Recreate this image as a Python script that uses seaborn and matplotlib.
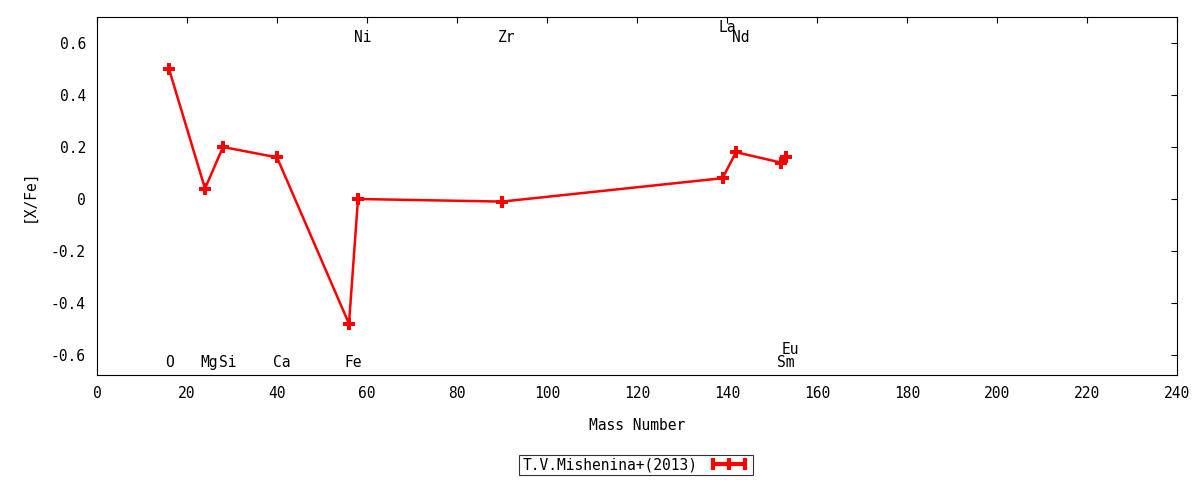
import matplotlib
matplotlib.use("Agg")
import matplotlib.pyplot as plt
import seaborn as sns
import pandas as pd
from matplotlib.lines import Line2D

elements = ["O", "Mg", "Si", "Ca", "Fe", "Ni", "Zr", "La", "Nd", "Sm", "Eu"]
mass = [16, 24, 28, 40, 56, 58, 90, 139, 142, 152, 153]
xfe = [0.50, 0.04, 0.20, 0.16, -0.48, 0.00, -0.01, 0.08, 0.18, 0.14, 0.16]
label_x = [16.2, 25, 29, 41, 57, 59, 91, 140, 143, 153, 154]
label_y = [-0.63, -0.63, -0.63, -0.63, -0.63, 0.62, 0.62, 0.66, 0.62, -0.63, -0.58]
series_name = "T.V.Mishenina+(2013)"
xticks = list(range(0, 241, 20))
yticks = [-0.6, -0.4, -0.2, 0, 0.2, 0.4, 0.6]

sns.set_style("white")
plt.rcParams['font.family'] = ['DejaVu Sans Mono']
plt.rcParams['text.color'] = 'black'
plt.rcParams['axes.labelcolor'] = 'black'

df = pd.DataFrame({"mass": mass, "xfe": xfe})

fig = plt.figure(figsize=(12, 4.8), dpi=100)
ax = fig.add_axes([97/1200, 1-375/480, 1080/1200, 358/480])

sns.lineplot(data=df, x="mass", y="xfe", ax=ax, sort=False, color="red",
             linewidth=1.8, marker="P", markersize=8.5, markeredgewidth=0,
             legend=False)

for el, lx, ly in zip(elements, label_x, label_y):
    ax.text(lx, ly, el, ha="center", va="center", fontsize=10.5, color="black")

ax.set_xlim(0, 240)
ax.set_ylim(-0.677, 0.7)
ax.set_xticks(xticks)
ax.set_xticklabels([str(t) for t in xticks])
ax.set_yticks(yticks)
ax.set_yticklabels(["-0.6", "-0.4", "-0.2", "0", "0.2", "0.4", "0.6"])
ax.tick_params(direction="in", length=4, width=0.8, top=True, right=True,
               labelsize=10.5, colors="black", pad=8)
ax.set_xlabel("Mass Number", fontsize=10.5, labelpad=12, color="black")
ax.set_ylabel("[X/Fe]", fontsize=10.5, labelpad=10, color="black")
for s in ax.spines.values():
    s.set_color("black")
    s.set_linewidth(0.8)

handle = Line2D([0], [0], color="red", linewidth=3, marker="|",
                markersize=9, markeredgewidth=3)
leg = fig.legend([handle], [series_name], loc="center", bbox_to_anchor=(636/1200, 1-465/480),
                 markerfirst=False, numpoints=3, frameon=True, fancybox=False,
                 fontsize=10.5, handlelength=2.8, borderpad=0.2, borderaxespad=0,
                 edgecolor="black")
leg.get_frame().set_linewidth(0.8)
for t in leg.get_texts():
    t.set_color("black")

fig.savefig("out.png", dpi=100)
